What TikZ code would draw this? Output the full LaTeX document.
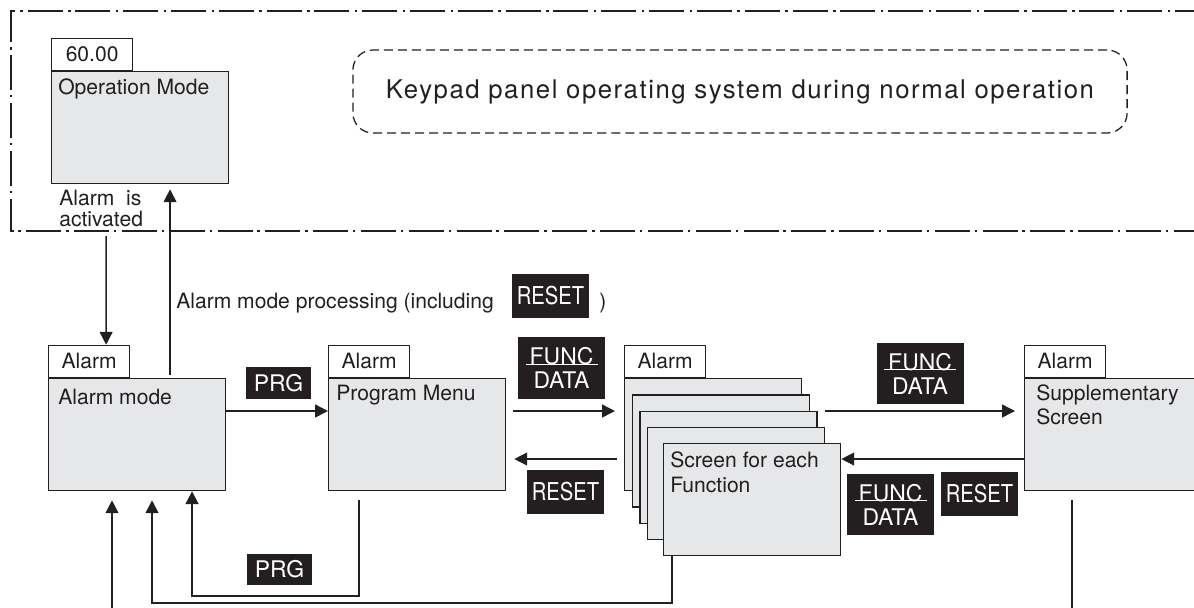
\documentclass[tikz,border=0pt]{standalone}
\usepackage{fontspec}
\setmainfont{TeX Gyre Heros}
\newfontfamily\keyfont[FakeStretch=0.82]{TeX Gyre Heros}
\newfontfamily\notefont[LetterSpace=6]{TeX Gyre Heros}
\usepackage{xcolor}
\usepackage{tikz}
\usetikzlibrary{arrows.meta,positioning}
\definecolor{ink}{HTML}{231F20}
\definecolor{panel}{HTML}{E6E7E8}

\begin{document}
\begin{tikzpicture}[x=0.025cm, y=-0.025cm,
    scrn/.style={draw=ink, fill=panel, line width=0.9pt, anchor=north west,
                 minimum width=4.425cm, minimum height=2.8cm, inner sep=0pt},
    tab/.style={draw=ink, fill=white, line width=0.9pt, text=ink,
                minimum width=2.025cm, minimum height=0.8cm, inner sep=0pt,
                font=\fontsize{15}{17}\selectfont},
    txt/.style={anchor=base west, inner sep=0pt, text=ink,
                font=\fontsize{15}{17}\selectfont},
    key/.style={fill=ink, text=white, inner sep=0pt},
    prg/.style={key, minimum width=1.6cm, minimum height=0.78cm,
                font=\fontsize{16.3}{18}\selectfont},
    rst/.style={key, minimum width=1.925cm, minimum height=1.1cm,
                font=\keyfont\fontsize{17.5}{18}\selectfont},
    fd/.style={key, minimum width=2.175cm, minimum height=1.53cm, align=center,
               font=\fontsize{16.3}{17}\selectfont,
               path picture={\draw[white, line width=0.7pt]
                 ([shift={(-36,-4)}]path picture bounding box.center) -- ++(72,0);}},
    arr/.style={-{Triangle[length=0.32cm, width=0.32cm]}, draw=ink, line width=1pt},
    loopl/.style={arr, line width=1.4pt},
  ]
    \useasboundingbox (0,0) rectangle (1194,607);
    \clip (0,0) rectangle (1194,607);

    % normal operation frame
    \draw[ink, line width=1.5pt, dash pattern=on 0.875cm off 0.12cm on 0.06cm off 0.14cm]
      (1210,11) -- (11,11) -- (11,231) -- (1210,231);

    \node[scrn] (op) at (51,71) {};
    \node[tab, above right=0pt of op.north west] (optab) {60.00};
    \node[txt] at ([shift={(7,23)}]op.north west) {Operation Mode};
    \node[txt, anchor=north west, align=left, font=\fontsize{15}{14.9}\selectfont]
      (act) at (59,190) {Alarm\ \ is\\activated};

    \node[draw=ink, line width=0.9pt, dash pattern=on 0.225cm off 0.125cm,
          rounded corners=0.5cm, minimum width=19.35cm, minimum height=2.075cm,
          text=ink, font=\notefont\fontsize{18.3}{20}\selectfont]
      (note) at (740,91.5) {Keypad panel operating system during normal operation};

    % alarm screens
    \node[scrn] (am) at (48,378) {};
    \node[tab, above right=0pt of am.north west] (amtab) {Alarm};
    \node[txt] at ([shift={(10,26)}]am.north west) {Alarm mode};

    \node[scrn] (pm) at (328,378) {};
    \node[tab, above right=0pt of pm.north west] (pmtab) {Alarm};
    \node[txt] at ([shift={(8,22)}]pm.north west) {Program Menu};

    \foreach \i in {0,...,3}
      \node[scrn] (lay\i) at (624+7.7*\i, 378+16.3*\i) {};
    \node[scrn] (fn) at (663,443) {};
    \node[tab, above right=0pt of lay0.north west] (fntab) {Alarm};
    \node[txt, anchor=north west, align=left, font=\fontsize{15}{18.4}\selectfont]
      at ([shift={(7,8)}]fn.north west) {Screen for each\\Function};

    \node[scrn] (sup) at (1024,378) {};
    \node[tab, above right=0pt of sup.north west] (suptab) {Alarm};
    \node[txt, anchor=north west, align=left, font=\fontsize{15}{17.7}\selectfont]
      at ([shift={(12,6)}]sup.north west) {Supplementary\\Screen};

    % keys
    \node[txt] (proc) at (176,308) {Alarm mode processing (including};
    \node[rst] (rst0) at (550.5,296) {RESET};
    \node[txt] (cls) at (599,308) {)};

    \node[prg] (prg1) at (278.5,383) {PRG};
    \node[prg] (prg2) at (279.5,569.5) {PRG};
    \node[fd] (fd1) at (561.5,368) {FUNC\\DATA};
    \node[fd] (fd2) at (920,373.5) {FUNC\\DATA};
    \node[fd] (fd3) at (890.5,504.5) {FUNC\\DATA};
    \node[rst] (rst1) at (565.5,492) {RESET};
    \node[rst] (rst2) at (979.5,494) {RESET};

    % connectors
    \coordinate (rowA) at (0,411);
    \coordinate (rowB) at (0,459);
    \draw[arr] ([shift={(5,9)}]act.south) -- ([xshift=0.125cm]act.south |- amtab.north);
    \draw[arr, shorten >=0.125cm] ([xshift=3.05cm, yshift=0.075cm]am.north west)
      -- ([xshift=3.05cm]am.north west |- op.south);

    \draw[arr] (am.east |- rowA) -- (pm.west |- rowA);
    \draw[arr, shorten <=0.175cm, shorten >=0.225cm] (pm.east |- rowA) -- (lay0.west |- rowA);
    \draw[arr, shorten <=0.175cm, shorten >=0.2cm] (lay0.west |- rowB) -- (pm.east |- rowB);
    \draw[arr, shorten >=0.225cm] (lay3.east |- rowA) -- (sup.west |- rowA);
    \draw[arr] (sup.west |- rowB) -- (fn.east |- rowB);

    \coordinate (inA) at (112,615);
    \draw[arr, shorten >=0.225cm] (inA) -- (inA |- am.south);
    \draw[loopl, shorten >=0.225cm] ([xshift=0.225cm]fn.south west)
      -- ++(0,47) -| ([xshift=2.6cm]am.south west);
    \draw[loopl] ([shift={(31,9)}]pm.south west)
      -- ++(0,96) -| ([xshift=3.6cm]am.south west);
    \draw[ink, line width=1pt] ([shift={(48,9)}]sup.south west) -- ++(0,120);
\end{tikzpicture}
\end{document}
